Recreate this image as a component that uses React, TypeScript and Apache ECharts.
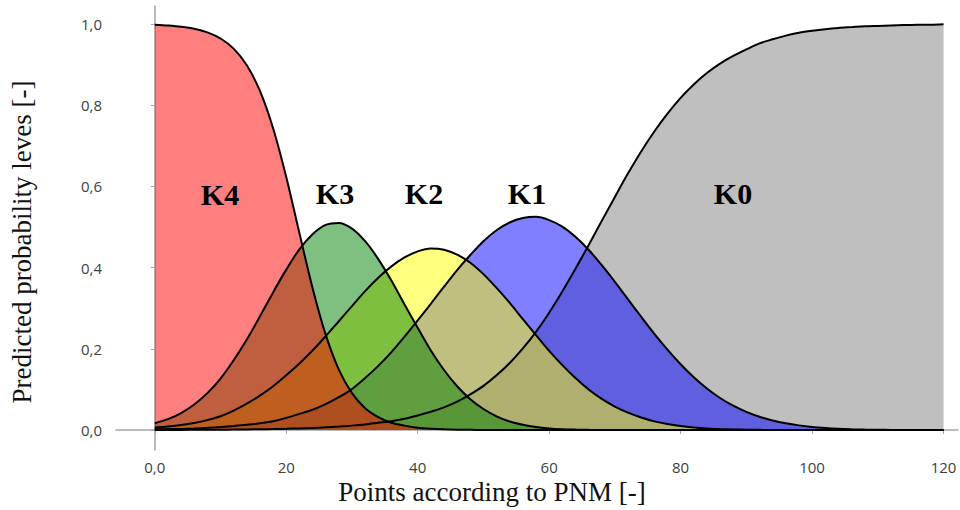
import React, { useEffect, useRef } from "react";
import * as echarts from "echarts";

const xs = [0, 2, 4, 6, 8, 10, 12, 14, 16, 18, 20, 22, 24, 26, 28, 30, 32, 34, 36, 38, 40, 42, 44, 46, 48, 50, 52, 54, 56, 58, 60, 62, 64, 66, 68, 70, 72, 74, 76, 78, 80, 82, 84, 86, 88, 90, 92, 94, 96, 98, 100, 102, 104, 106, 108, 110, 112, 114, 116, 118, 120];

const k4 = [0.998, 0.996, 0.993, 0.988, 0.979, 0.964, 0.939, 0.898, 0.835, 0.743, 0.623, 0.485, 0.35, 0.235, 0.149, 0.091, 0.054, 0.032, 0.018, 0.011, 0.006, 0.0035, 0.002, 0.0011, 0.0007, 0.0004, 0.0002, 0.0001,
  0, 0, 0, 0, 0, 0, 0, 0, 0, 0, 0, 0, 0, 0, 0, 0, 0, 0, 0, 0, 0, 0, 0, 0, 0, 0, 0, 0, 0, 0, 0, 0, 0];

const k3 = [0.017, 0.027, 0.042, 0.063, 0.091, 0.127, 0.172, 0.223, 0.28, 0.339, 0.395, 0.445, 0.482, 0.505, 0.51, 0.496, 0.465, 0.421, 0.368, 0.309, 0.252, 0.196, 0.148, 0.108, 0.076, 0.052, 0.034, 0.021, 0.013, 0.0075, 0.0042, 0.0023, 0.0012, 0.0006, 0.0003,
  0, 0, 0, 0, 0, 0, 0, 0, 0, 0, 0, 0, 0, 0, 0, 0, 0, 0, 0, 0, 0, 0, 0, 0, 0, 0];

const k2 = [0.0065, 0.009, 0.0125, 0.0175, 0.0245, 0.034, 0.048, 0.065, 0.085, 0.108, 0.135, 0.164, 0.196, 0.231, 0.268, 0.305, 0.342, 0.375, 0.403, 0.425, 0.44, 0.447, 0.444, 0.432, 0.412, 0.384, 0.35, 0.313, 0.273, 0.234, 0.195, 0.16, 0.128, 0.1, 0.077, 0.058, 0.043, 0.031, 0.0215, 0.0148, 0.01, 0.0066, 0.0042, 0.0027, 0.0017, 0.001, 0.0006, 0.0003, 0.0002, 0.0001,
  0, 0, 0, 0, 0, 0, 0, 0, 0, 0, 0];

const k1 = [0.002, 0.0025, 0.003, 0.004, 0.0055, 0.0075, 0.01, 0.013, 0.017, 0.022, 0.03, 0.04, 0.05, 0.064, 0.081, 0.101, 0.128, 0.158, 0.192, 0.23, 0.27, 0.311, 0.353, 0.394, 0.431, 0.465, 0.492, 0.511, 0.522, 0.525, 0.517, 0.501, 0.476, 0.444, 0.406, 0.365, 0.322, 0.279, 0.237, 0.198, 0.162, 0.13, 0.1025, 0.079, 0.06, 0.045, 0.033, 0.0237, 0.0167, 0.0116, 0.0079, 0.0053, 0.0034, 0.0022, 0.0014, 0.0009, 0.0005, 0.0003, 0.0002, 0.0001, 0.0001];

const k0 = [0.0003, 0.0004, 0.0005, 0.0006, 0.0008, 0.001, 0.0013, 0.0016, 0.0021, 0.0026, 0.0033, 0.0042, 0.0054, 0.0068, 0.0087, 0.011, 0.014, 0.018, 0.022, 0.028, 0.036, 0.045, 0.056, 0.07, 0.088, 0.109, 0.135, 0.165, 0.201, 0.242, 0.289, 0.341, 0.397, 0.455, 0.515, 0.574, 0.632, 0.686, 0.735, 0.779, 0.818, 0.851, 0.879, 0.902, 0.921, 0.937, 0.952, 0.962, 0.971, 0.978, 0.983, 0.987, 0.99, 0.992, 0.994, 0.995, 0.996, 0.997, 0.998, 0.998, 0.999];

const xTicks = [0, 20, 40, 60, 80, 100, 120];
const yTicks = [0, 0.2, 0.4, 0.6, 0.8, 1.0];

const seriesDefs = [
  { name: "K0", values: k0, fill: "rgba(128,128,128,0.5)" },
  { name: "K1", values: k1, fill: "rgba(0,0,255,0.5)" },
  { name: "K2", values: k2, fill: "rgba(255,255,0,0.5)" },
  { name: "K3", values: k3, fill: "rgba(0,128,0,0.5)" },
  { name: "K4", values: k4, fill: "rgba(255,0,0,0.5)" },
];

const classLabels = [
  { text: "K4", x: 220, y: 194 },
  { text: "K3", x: 335, y: 193 },
  { text: "K2", x: 424, y: 193 },
  { text: "K1", x: 527, y: 193 },
  { text: "K0", x: 733, y: 193 },
];

export default function App() {
  const ref = useRef<HTMLDivElement>(null);
  useEffect(() => {
    if (!ref.current) return;
    const chart = echarts.init(ref.current, undefined, { renderer: "svg" });
    const toPairs = (vals: number[]) => xs.map((x, i) => [x, vals[i]]);
    const areaSeries = seriesDefs.map((s) => ({
      name: s.name + "-area",
      type: "line",
      data: toPairs(s.values),
      smooth: 0.3,
      symbol: "none",
      lineStyle: { width: 0, opacity: 0 },
      areaStyle: { color: s.fill, opacity: 1 },
      z: 2,
      silent: true,
    }));
    const lineSeries = seriesDefs.map((s) => ({
      name: s.name,
      type: "line",
      data: toPairs(s.values),
      smooth: 0.3,
      symbol: "none",
      lineStyle: { width: 2, color: "#000" },
      z: 3,
      silent: true,
    }));
    chart.setOption({
      animation: false,
      grid: { left: 116, right: 2, top: 6, bottom: 60, containLabel: false },
      xAxis: {
        type: "value",
        min: -5.9,
        max: 122.2,
        axisLine: { show: true, lineStyle: { color: "#a6a6a6", width: 1.5 } },
        axisTick: { show: true, customValues: xTicks, length: 4, inside: false, lineStyle: { color: "#a6a6a6" } },
        splitLine: { show: false },
        axisLabel: {
          customValues: xTicks,
          margin: 9,
          color: "#404040",
          fontFamily: "Open Sans",
          fontSize: 15,
          formatter: (v: number) => (v === 0 ? "0,0" : String(v)),
        },
      },
      yAxis: {
        type: "value",
        min: -0.049,
        max: 1.044,
        axisLine: { show: true, lineStyle: { color: "#a6a6a6", width: 1.5 } },
        axisTick: { show: true, customValues: yTicks, length: 4, lineStyle: { color: "#a6a6a6" } },
        splitLine: { show: false },
        axisLabel: {
          customValues: yTicks,
          margin: 14,
          color: "#404040",
          fontFamily: "Open Sans",
          fontSize: 15,
          formatter: (v: number) => v.toFixed(1).replace(".", ","),
        },
      },
      series: [...areaSeries, ...lineSeries],
      graphic: [
        {
          type: "text",
          x: 22,
          y: 242,
          rotation: Math.PI / 2,
          style: {
            text: "Predicted probability leves [-]",
            font: "27px 'Liberation Serif'",
            fill: "#111",
            textAlign: "center",
            textVerticalAlign: "middle",
          },
        },
        {
          type: "text",
          x: 492,
          y: 492,
          style: {
            text: "Points according to PNM [-]",
            font: "27px 'Liberation Serif'",
            fill: "#111",
            textAlign: "center",
            textVerticalAlign: "middle",
          },
        },
        ...classLabels.map((l) => ({
          type: "text",
          x: l.x,
          y: l.y,
          z: 10,
          style: {
            text: l.text,
            font: "bold 30px 'Liberation Serif'",
            fill: "#000",
            textAlign: "center",
            textVerticalAlign: "middle",
          },
        })),
      ],
    });
    return () => chart.dispose();
  }, []);
  return (
    <div
      ref={ref}
      style={{ position: "fixed", left: 0, top: 0, width: 960, height: 510, background: "#fff" }}
    />
  );
}
